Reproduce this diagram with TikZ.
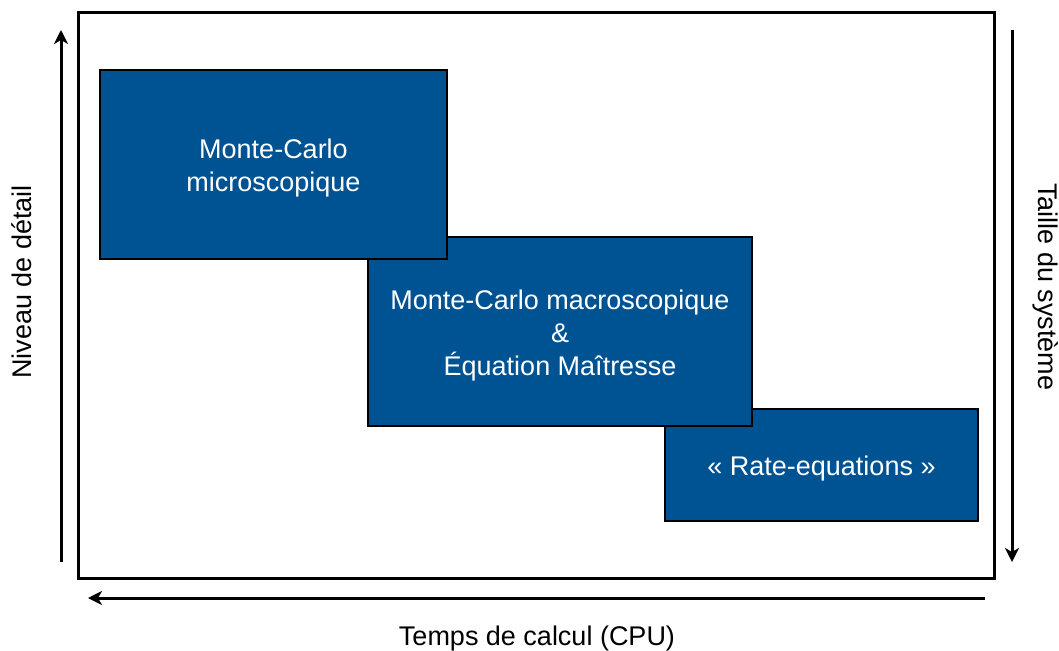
\documentclass[tikz,border=0pt]{standalone}
\usepackage{fontspec}
\setmainfont{Liberation Sans}
\usetikzlibrary{arrows.meta}
\definecolor{boxblue}{RGB}{0,83,147}
\tikzset{
  bluebox/.style={draw=black, line width=2pt, fill=boxblue, inner sep=0pt},
  boxtext/.style={text=white, inner sep=0pt, align=center, font=\fontsize{27}{33}\selectfont},
  axisarrow/.style={line width=3pt, -{Stealth[length=14pt,width=14pt,inset=4pt]}},
  axislabel/.style={font=\fontsize{27}{33}\selectfont, inner sep=0pt},
}
\begin{document}
\begin{tikzpicture}[x=1pt,y=-1pt]
\useasboundingbox (0,0) rectangle (1059,650);
\draw[line width=3pt] (78,13) rectangle (994,578);
\node[bluebox, minimum width=313pt, minimum height=112pt] (rate) at (821.5,465) {};
\node[boxtext] (ratetext) at ([yshift=-4pt]rate.center) {« Rate-equations »};
\node[bluebox, minimum width=384pt, minimum height=189pt] (macro) at (560,331.5) {};
\node[boxtext] (macrotext) at ([yshift=-4pt]macro.center) {Monte-Carlo macroscopique\\\&\\Équation Maîtresse};
\node[bluebox, minimum width=347pt, minimum height=189pt] (micro) at (273.5,164.5) {};
\node[boxtext] (microtext) at ([yshift=-4pt]micro.center) {Monte-Carlo\\microscopique};
\coordinate (l0) at (61,562);
\coordinate (l1) at (61,30);
\coordinate (r0) at (1012,30);
\coordinate (r1) at (1012,562);
\coordinate (b0) at (985,598);
\coordinate (b1) at (88,598);
\draw[axisarrow] (l0) -- (l1);
\draw[axisarrow] (r0) -- (r1);
\draw[axisarrow] (b0) -- (b1);
\node[axislabel, rotate=90] (niveau) at (22,282) {Niveau de détail};
\node[axislabel, rotate=-90] (taille) at (1046,287) {Taille du système};
\node[axislabel] (temps) at (537,639) {Temps de calcul (CPU)};
\end{tikzpicture}
\end{document}
